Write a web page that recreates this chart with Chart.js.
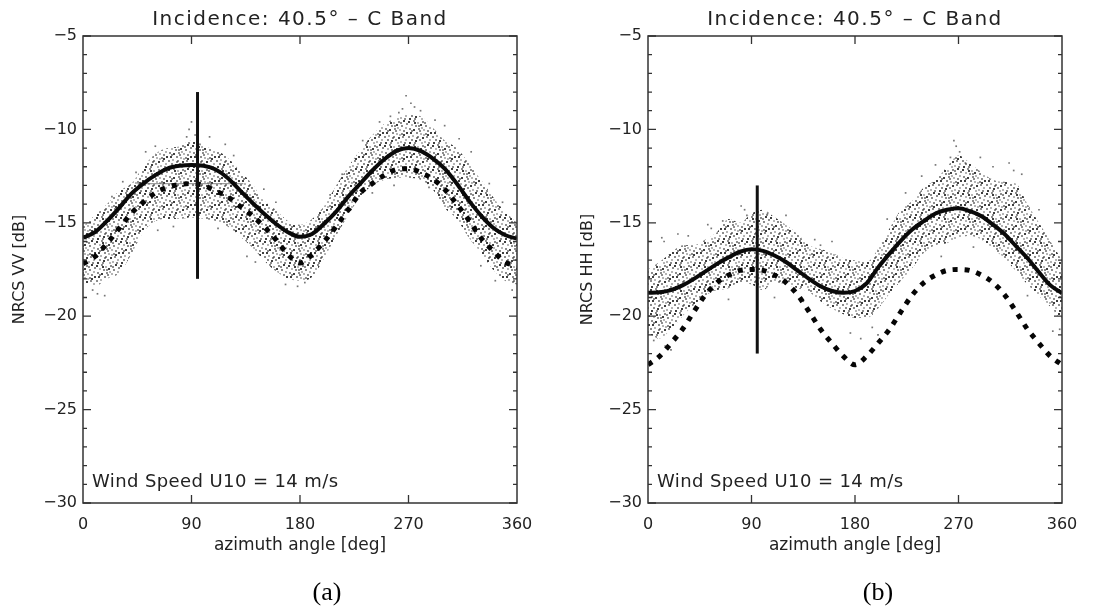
<!DOCTYPE html>
<html>
<head>
<meta charset="utf-8">
<script src="https://cdn.jsdelivr.net/npm/chart.js@4.4.0/dist/chart.umd.min.js"></script>
<style>
  body { margin: 0; background: #fff; width: 1108px; height: 612px; position: relative; overflow: hidden; }
  canvas { position: absolute; top: 0; }
</style>
</head>
<body>
<canvas id="vv" width="554" height="612" style="left:0"></canvas>
<canvas id="hh" width="554" height="612" style="left:554px"></canvas>
<script>
// azimuth sampling of the curves
const angles = [0, 10, 20, 30, 40, 50, 60, 70, 80, 90, 100, 110, 120, 130, 140, 150, 160, 170, 180,
  190, 200, 210, 220, 230, 240, 250, 260, 270, 280, 290, 300, 310, 320, 330, 340, 350, 360];

// (a) VV
const vvModel = [-15.8, -15.5, -14.9, -14.2, -13.45, -12.9, -12.45, -12.1, -11.95, -11.9, -11.95, -12.15, -12.6,
  -13.25, -13.9, -14.5, -15.05, -15.5, -15.75, -15.6, -15.05, -14.4, -13.6, -12.9, -12.2, -11.6, -11.15, -11.0,
  -11.15, -11.55, -12.1, -12.9, -13.8, -14.6, -15.25, -15.65, -15.85];
const vvDashed = [-17.2, -16.8, -16.1, -15.3, -14.5, -13.9, -13.4, -13.1, -12.95, -12.9, -13.0, -13.3, -13.6,
  -14.1, -14.6, -15.2, -15.9, -16.7, -17.15, -16.7, -16.0, -15.2, -14.3, -13.4, -12.9, -12.45, -12.15, -12.1,
  -12.3, -12.65, -13.2, -14.0, -14.85, -15.8, -16.5, -17.1, -17.3];
const vvCloudTop = [-15.2, -14.6, -14.0, -13.3, -12.9, -12.0, -11.3, -11.0, -10.9, -10.6, -10.9, -11.1, -11.5,
  -12.2, -12.9, -13.8, -14.3, -14.9, -15.1, -14.8, -14.1, -13.0, -12.0, -11.1, -10.3, -9.7, -9.4, -9.2,
  -9.3, -9.9, -10.6, -11.0, -11.8, -12.7, -13.6, -14.4, -15.0];
const vvCloudBottom = [-18.2, -18.4, -18.0, -17.7, -16.7, -15.5, -14.9, -14.8, -14.8, -14.7, -14.8, -14.9, -15.2,
  -15.7, -16.3, -17.0, -17.6, -18.0, -18.1, -17.9, -16.9, -15.7, -14.6, -13.6, -13.0, -12.7, -12.6, -12.6,
  -12.7, -13.2, -14.2, -14.8, -15.8, -16.6, -17.5, -18.1, -18.3];
const vvOutliers = [[86, -10.4], [88, -10.0], [90, -9.6], [93, -10.3], [97, -10.8], [52, -11.2], [60, -10.9],
  [118, -10.8], [125, -11.4], [265, -8.9], [268, -8.2], [272, -8.6], [275, -8.8], [262, -9.1], [280, -9.0],
  [255, -9.3], [292, -9.5], [300, -9.8], [8, -18.6], [12, -18.8], [18, -18.9], [168, -18.3], [178, -18.4],
  [184, -18.2], [136, -16.8], [143, -17.1], [330, -17.3], [342, -18.1], [356, -18.6], [24, -13.6], [33, -12.8],
  [44, -12.3], [105, -10.4], [150, -13.2], [160, -13.9], [205, -13.5], [215, -12.4], [232, -10.6], [246, -9.6],
  [312, -10.5], [322, -11.2], [337, -12.9], [348, -13.9], [62, -15.4], [75, -15.2], [112, -15.3], [240, -13.4],
  [258, -13.0], [287, -13.1]];
const vvStick = [[95, -18], [95, -8]];
const vvFlat = [[45, -12.9], [133, -12.9]];

// (b) HH
const hhModel = [-18.75, -18.72, -18.6, -18.35, -18.0, -17.6, -17.2, -16.85, -16.55, -16.42, -16.5, -16.75, -17.1,
  -17.55, -18.0, -18.4, -18.65, -18.75, -18.65, -18.25, -17.4, -16.65, -15.95, -15.35, -14.9, -14.5, -14.3, -14.22,
  -14.38, -14.65, -15.1, -15.6, -16.25, -16.9, -17.65, -18.35, -18.77];
const hhDashed = [-22.6, -22.15, -21.45, -20.7, -19.75, -18.85, -18.2, -17.8, -17.55, -17.5, -17.55, -17.8, -18.2,
  -18.85, -19.75, -20.7, -21.45, -22.15, -22.6, -22.15, -21.45, -20.7, -19.75, -18.85, -18.2, -17.8, -17.55, -17.5,
  -17.55, -17.8, -18.2, -18.85, -19.75, -20.7, -21.45, -22.15, -22.6];
const hhCloudTop = [-17.5, -17.1, -16.6, -16.2, -16.2, -15.9, -15.5, -14.8, -15.0, -14.5, -14.3, -14.7, -15.1,
  -15.6, -16.2, -16.4, -16.6, -16.9, -17.0, -17.1, -16.4, -15.3, -14.3, -13.8, -13.1, -12.7, -12.0, -11.4,
  -11.8, -12.3, -12.7, -12.8, -12.9, -14.0, -15.0, -16.0, -17.0];
const hhCloudBottom = [-20.9, -21.2, -20.7, -20.0, -19.4, -18.9, -18.6, -18.5, -18.2, -18.3, -18.6, -18.2, -18.3,
  -18.5, -18.7, -19.2, -19.6, -19.9, -20.1, -20.1, -19.6, -18.8, -18.1, -17.4, -16.6, -16.2, -16.1, -15.8,
  -15.7, -15.9, -16.4, -16.9, -17.6, -18.3, -18.9, -19.5, -20.3];
const hhOutliers = [[12, -15.8], [14, -16.0], [26, -15.6], [52, -15.1], [55, -15.3], [81, -14.1], [84, -14.3],
  [86, -14.6], [104, -14.5], [145, -15.9], [150, -16.2], [195, -20.6], [200, -21.0], [250, -11.9], [263, -11.5],
  [266, -10.6], [268, -10.9], [271, -11.2], [276, -11.8], [289, -11.5], [314, -11.8], [318, -12.2], [5, -21.3],
  [15, -21.6], [20, -21.8], [352, -20.8], [358, -20.7], [176, -20.9], [185, -21.2], [35, -15.7], [65, -14.9],
  [120, -14.6], [160, -16.0], [208, -14.8], [224, -13.4], [238, -12.5], [300, -12.0], [325, -12.4], [340, -14.3],
  [70, -19.1], [110, -19.0], [135, -19.2], [255, -16.8], [283, -16.3], [330, -18.9]];
const hhStick = [[95, -22], [95, -13]];

const azimuthTicks = [0, 90, 180, 270, 360];
const nrcsTicks = [-30, -25, -20, -15, -10, -5];
const panelTitle = 'Incidence: 40.5\u00b0 \u2013 C Band';
const windNote = 'Wind Speed U10 = 14 m/s';

// speckle texture used to paint the measurement cloud (hand-placed dots in a 24px tile)
const speckleDots = [[0, 1], [5, 0], [9, 2], [14, 1], [19, 0], [22, 3], [3, 4], [7, 5], [12, 4], [17, 5],
  [21, 7], [1, 8], [5, 9], [10, 8], [15, 9], [19, 10], [2, 12], [8, 12], [12, 13], [17, 13], [22, 12],
  [0, 16], [4, 15], [9, 16], [14, 17], [18, 16], [21, 19], [3, 19], [7, 20], [11, 19], [16, 21], [20, 22],
  [1, 22], [6, 22], [13, 22], [11, 10], [6, 2], [16, 2], [13, 7], [8, 17], [19, 14], [3, 10], [15, 14], [10, 5]];
function makeSpeckle() {
  const c = document.createElement('canvas');
  c.width = 24; c.height = 24;
  const g = c.getContext('2d');
  speckleDots.forEach(([x, y], i) => {
    g.fillStyle = i % 4 === 0 ? 'rgba(15,15,15,0.8)' : i % 4 === 2 ? 'rgba(70,70,70,0.4)' : 'rgba(45,45,45,0.55)';
    g.fillRect(x, y, 2, 2);
  });
  return g.createPattern(c, 'repeat');
}
const speckle = makeSpeckle();

const pts = vals => angles.map((a, i) => ({x: a, y: vals[i]}));
const pairs = list => list.map(([x, y]) => ({x, y}));
const minus = v => String(v).replace('-', '\u2212');
const FONT = '"DejaVu Sans", sans-serif';

const framePlugin = {
  id: 'frame',
  afterDatasetsDraw(chart) {
    const {ctx, chartArea: a, scales: {x, y}} = chart;
    ctx.save();
    ctx.strokeStyle = '#333';
    ctx.lineWidth = 1.5;
    ctx.strokeRect(a.left, a.top, a.right - a.left, a.bottom - a.top);
    ctx.lineWidth = 1.3;
    ctx.beginPath();
    x.ticks.forEach(t => {
      if (t.value <= x.min || t.value >= x.max) return;
      const px = x.getPixelForValue(t.value);
      ctx.moveTo(px, a.bottom); ctx.lineTo(px, a.bottom - 8);
      ctx.moveTo(px, a.top); ctx.lineTo(px, a.top + 8);
    });
    for (let v = Math.ceil(y.min); v <= y.max; v++) {
      const py = y.getPixelForValue(v);
      const len = v % 5 === 0 ? 8 : 4;
      ctx.moveTo(a.left, py); ctx.lineTo(a.left + len, py);
      ctx.moveTo(a.right, py); ctx.lineTo(a.right - len, py);
    }
    ctx.stroke();
    ctx.restore();
  },
  afterDraw(chart, args, opts) {
    const {ctx, chartArea: a} = chart;
    ctx.save();
    ctx.fillStyle = '#222';
    ctx.textBaseline = 'middle';
    ctx.textAlign = 'center';
    ctx.font = '20px ' + FONT;
    ctx.letterSpacing = '1.5px';
    ctx.fillText(panelTitle, (a.left + a.right) / 2, 20);
    ctx.letterSpacing = '0.4px';
    ctx.textAlign = 'left';
    ctx.font = '18px ' + FONT;
    ctx.fillText(windNote, a.left + 9, 482);
    ctx.letterSpacing = '0px';
    ctx.textAlign = 'center';
    ctx.fillStyle = '#000';
    ctx.font = '26px "Liberation Serif", "Times New Roman", serif';
    ctx.fillText(opts.tag, opts.tagX, 593);
    ctx.restore();
  }
};

function makePanel(id, cfg) {
  const smooth = {pointRadius: 0, cubicInterpolationMode: 'monotone'};
  new Chart(document.getElementById(id), {
    type: 'line',
    data: {
      datasets: [
        {data: pairs(cfg.stick), borderColor: '#111', borderWidth: 3, pointRadius: 0},
        {...smooth, data: pts(cfg.model), borderColor: '#0a0a0a', borderWidth: 4},
        {...smooth, data: pts(cfg.dashed), borderColor: '#050505', borderWidth: 5, borderDash: [5, 7],
          borderCapStyle: 'butt'},
        {data: pairs(cfg.flat), borderColor: 'rgba(90,90,90,0.6)', borderWidth: 1.2, pointRadius: 0},
        {data: pairs(cfg.outliers), showLine: false, pointStyle: 'rect', pointRadius: 1.2, borderWidth: 0,
          backgroundColor: 'rgba(60,60,60,0.7)'},
        {...smooth, data: pts(cfg.cloudTop), borderWidth: 0, fill: '+1', backgroundColor: speckle},
        {...smooth, data: pts(cfg.cloudBottom), borderWidth: 0, fill: false}
      ]
    },
    options: {
      responsive: false,
      animation: false,
      layout: {padding: {left: 0, right: cfg.right, top: 36, bottom: 0}},
      plugins: {
        legend: {display: false},
        tooltip: {enabled: false},
        frame: {tag: cfg.tag, tagX: cfg.tagX}
      },
      scales: {
        x: {
          type: 'linear', min: 0, max: 360,
          afterBuildTicks: s => { s.ticks = azimuthTicks.map(v => ({value: v})); },
          afterFit: s => { s.height = 109; },
          grid: {display: false, drawTicks: false},
          border: {display: false},
          ticks: {font: {family: FONT, size: 16}, color: '#222', padding: 12, maxRotation: 0},
          title: {display: true, text: 'azimuth angle [deg]', font: {family: FONT, size: 17}, color: '#222',
            padding: {top: 0, bottom: 56}}
        },
        y: {
          min: -30, max: -5,
          afterBuildTicks: s => { s.ticks = nrcsTicks.map(v => ({value: v})); },
          afterFit: s => { s.width = cfg.left; },
          grid: {display: false, drawTicks: false},
          border: {display: false},
          ticks: {font: {family: FONT, size: 16}, color: '#222', padding: 6, callback: minus},
          title: {display: true, text: cfg.yTitle, font: {family: FONT, size: 16}, color: '#222',
            padding: {top: cfg.yTitlePad, bottom: 0}}
        }
      }
    },
    plugins: [framePlugin]
  });
}

makePanel('vv', {
  model: vvModel, dashed: vvDashed, cloudTop: vvCloudTop, cloudBottom: vvCloudBottom,
  outliers: vvOutliers, stick: vvStick, flat: vvFlat, yTitle: 'NRCS VV [dB]',
  left: 83, right: 37, yTitlePad: 10, tag: '(a)', tagX: 327
});
makePanel('hh', {
  model: hhModel, dashed: hhDashed, cloudTop: hhCloudTop, cloudBottom: hhCloudBottom,
  outliers: hhOutliers, stick: hhStick, flat: [], yTitle: 'NRCS HH [dB]',
  left: 94, right: 46, yTitlePad: 24, tag: '(b)', tagX: 324
});
</script>
</body>
</html>
